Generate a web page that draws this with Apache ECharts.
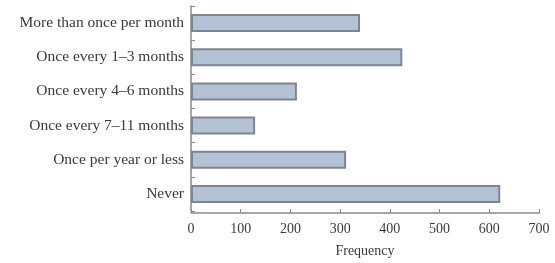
<!DOCTYPE html>
<html lang="en" style="height: 100%">
<head>
    <meta charset="UTF-8">
    <title>Frequency</title>
    <script src="https://cdn.jsdelivr.net/npm/echarts@6/dist/echarts.min.js"></script>
</head>
<body style="height: 100%; margin: 0; background: #fff">
<div id="container" style="width: 555px; height: 263px"></div>

<script type="text/javascript">
    var categories = ['More than once per month', 'Once every 1\u20133 months', 'Once every 4\u20136 months',
        'Once every 7\u201311 months', 'Once per year or less', 'Never'];
    var frequency = [340, 425, 213, 129, 312, 622];
    var xTicks = [0, 100, 200, 300, 400, 500, 600, 700];

    var font = 'Liberation Serif';
    var myChart = echarts.init(document.getElementById('container'), null, {renderer: 'canvas'});

    var option = {
        animation: false,
        grid: {left: 191, right: 16, top: 6, bottom: 50},
        xAxis: {
            type: 'value',
            min: xTicks[0],
            max: xTicks[xTicks.length - 1],
            interval: 100,
            offset: 2,
            name: 'Frequency',
            nameLocation: 'middle',
            nameGap: 31,
            nameTextStyle: {fontFamily: font, fontSize: 14, color: '#3a3a3a'},
            axisLine: {show: true, lineStyle: {color: '#8a8a8a', width: 1.5}},
            axisTick: {show: true, inside: true, length: 4, lineStyle: {color: '#8a8a8a'}},
            axisLabel: {fontFamily: font, fontSize: 14, color: '#3a3a3a', margin: 9},
            splitLine: {show: false}
        },
        yAxis: {
            type: 'category',
            data: categories,
            inverse: true,
            axisLine: {show: true, lineStyle: {color: '#8a8a8a', width: 1.5}},
            axisTick: {show: true, inside: true, length: 4, lineStyle: {color: '#8a8a8a'}},
            axisLabel: {fontFamily: font, fontSize: 15.5, color: '#3a3a3a', margin: 7}
        },
        series: [{
            type: 'bar',
            data: frequency,
            barWidth: 18,
            itemStyle: {color: '#b3c2d5', borderColor: '#7e858e', borderWidth: 2}
        }]
    };
    myChart.setOption(option, true);
</script>
</body>
</html>
